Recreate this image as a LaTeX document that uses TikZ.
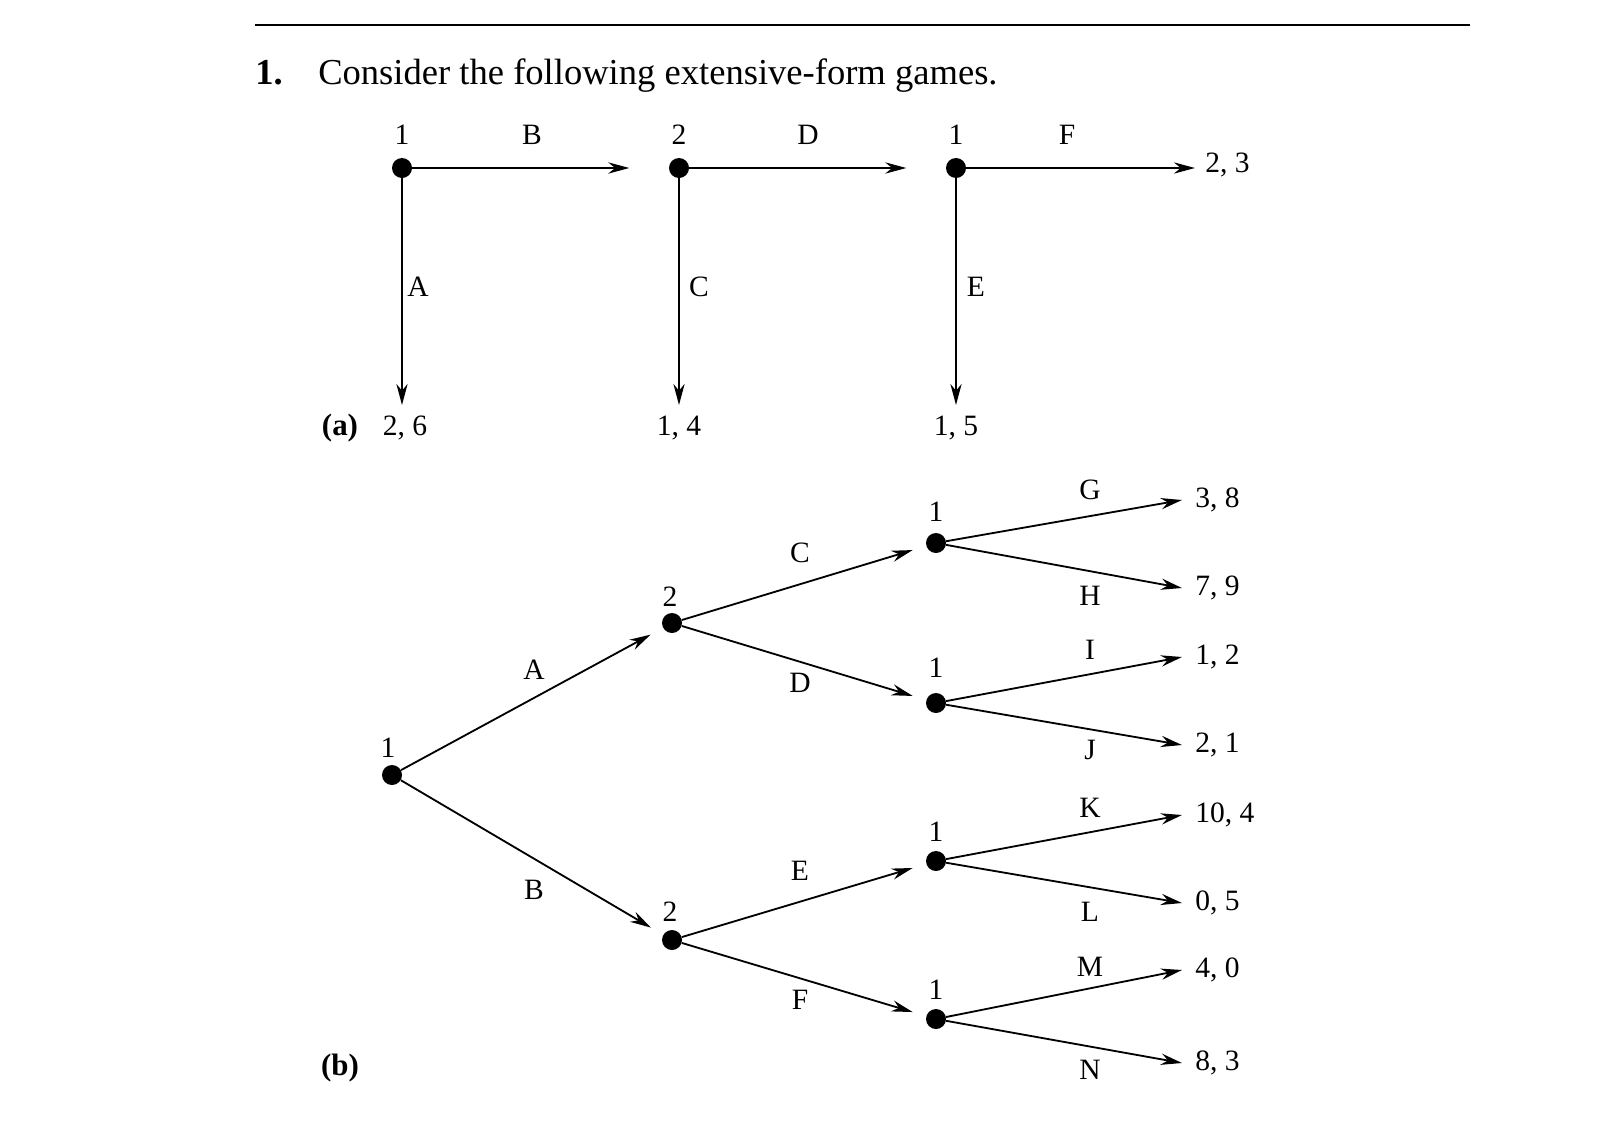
\documentclass[tikz,border=0pt]{standalone}
\usepackage{fontspec}
\setmainfont{Liberation Serif}
\usetikzlibrary{arrows.meta}
\begin{document}
\begin{tikzpicture}[x=0.025cm,y=-0.025cm,
  dot/.style={circle,fill=black,inner sep=0pt,minimum size=0.5cm},
  edge/.style={line width=1.3pt,-{Stealth[length=15pt,width=8pt]}},
  lbl/.style={font=\fontsize{21}{25}\selectfont,inner sep=0pt},
  pay/.style={lbl,anchor=west}]
\useasboundingbox (0,0) rectangle (1598,1144);
\draw[line width=0.8pt] (255,25) -- (1470,25);
\node[anchor=base west,inner sep=0pt,font=\fontsize{26}{30}\selectfont] (t1) at (255,84) {\textbf{1.}};
\node[anchor=base west,inner sep=0pt,font=\fontsize{26}{30}\selectfont] (t2) at (318,84) {Consider the following extensive-form games.};
% (a)
\node[dot] (a1) at (402,168) {};
\node[dot] (a2) at (679,168) {};
\node[dot] (a3) at (956,168) {};
\coordinate (aF) at (1195,168);
\node[pay] (p23) at (1205,165) {2, 3};
\node[lbl] (p26) at (405,428) {2, 6};
\node[lbl] (p14) at (679,428) {1, 4};
\node[lbl] (p15) at (956,428) {1, 5};
\coordinate (dA) at (402,405);
\coordinate (dC) at (679,405);
\coordinate (dE) at (956,405);
\node[lbl,font=\fontsize{22}{26}\selectfont\bfseries] (la) at (340,428) {(a)};
\draw[edge,shorten >=28pt] (a1) -- (a2);
\draw[edge,shorten >=28pt] (a2) -- (a3);
\draw[edge] (a3) -- (aF);
\draw[edge] (a1) -- (dA);
\draw[edge] (a2) -- (dC);
\draw[edge] (a3) -- (dE);
\foreach \n/\x/\t in {o1/402/1,o2/679/2,o3/956/1,oB/532/B,oD/808/D,oF/1067/F}
  \node[lbl] (\n) at (\x,135) {\t};
\node[lbl] at (418,287) {A};
\node[lbl] at (699,287) {C};
\node[lbl] at (976,287) {E};
% (b)
\node[dot] (r) at (392,775) {};
\node[dot] (u) at (672,623) {};
\node[dot] (d) at (672,940) {};
\node[dot] (c1) at (936,543) {};
\node[dot] (c2) at (936,703) {};
\node[dot] (c3) at (936,861) {};
\node[dot] (c4) at (936,1019) {};
\node[lbl] at (388,748) {1};
\node[lbl] at (670,597) {2};
\node[lbl] at (670,912) {2};
\foreach \y in {512,668,832,990} \node[lbl] at (936,\y) {1};
\draw[edge,shorten >=10pt] (r) -- (u);
\draw[edge,shorten >=10pt] (r) -- (d);
\draw[edge,shorten >=10pt] (u) -- (c1);
\draw[edge,shorten >=10pt] (u) -- (c2);
\draw[edge,shorten >=10pt] (d) -- (c3);
\draw[edge,shorten >=10pt] (d) -- (c4);
\node[lbl] at (534,670) {A};
\node[lbl] at (534,890) {B};
\node[lbl] at (800,553) {C};
\node[lbl] at (800,683) {D};
\node[lbl] at (800,871) {E};
\node[lbl] at (800,1000) {F};
\foreach \s/\y/\p/\L/\ly/\nm in {c1/500/{3, 8}/G/490/g,c1/588/{7, 9}/H/596/h,c2/657/{1, 2}/I/650/i,c2/745/{2, 1}/J/750/j,c3/815/{10, 4}/K/808/k,c3/903/{0, 5}/L/912/l,c4/970/{4, 0}/M/967/m,c4/1063/{8, 3}/N/1070/n}{
  \coordinate (e\nm) at (1182,\y);
  \node[pay] (q\nm) at (1195,\y) {\p};
  \node[lbl] at (1090,\ly) {\L};
  \draw[edge] (\s) -- (e\nm);
}
\node[lbl,font=\fontsize{22}{26}\selectfont\bfseries] (lb) at (340,1068) {(b)};
\end{tikzpicture}
\end{document}
